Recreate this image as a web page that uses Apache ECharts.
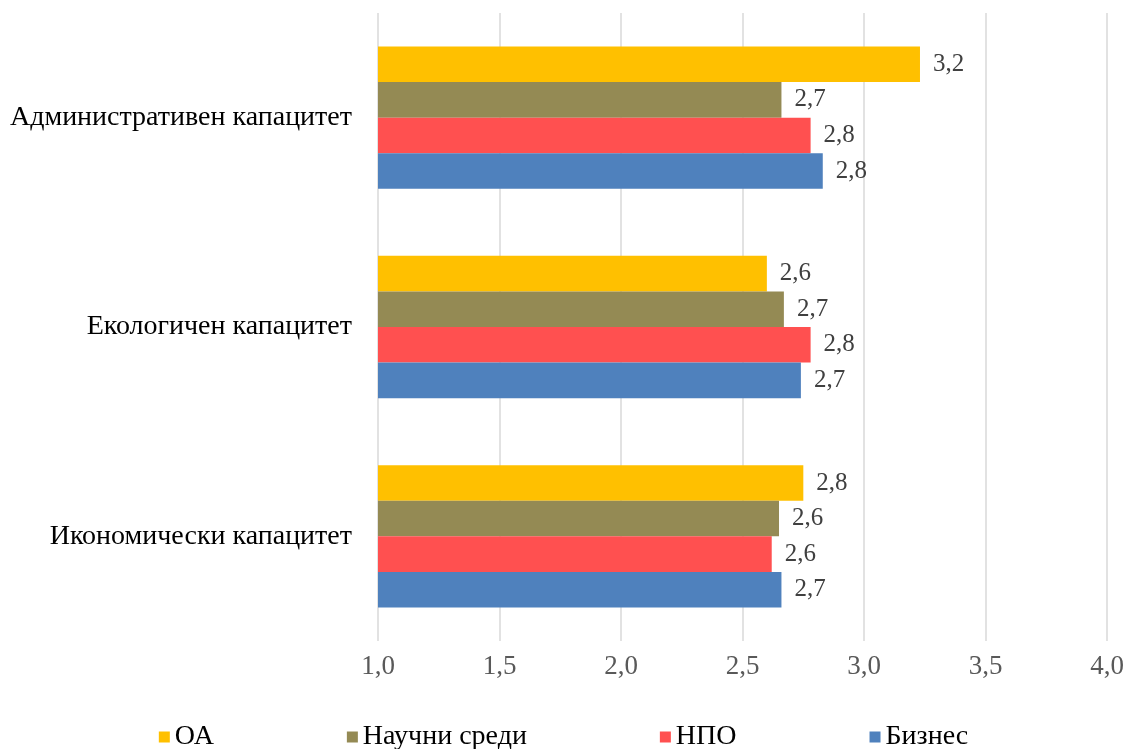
<!DOCTYPE html>
<html>
<head>
<meta charset="utf-8">
<script src="https://cdn.jsdelivr.net/npm/echarts@6/dist/echarts.min.js"></script>
<style>
  html, body { margin: 0; padding: 0; background: #fff; }
  #chart { width: 1127px; height: 749px; }
</style>
</head>
<body>
<div id="chart"></div>
<script>
// categories, top to bottom
const categories = ["Административен капацитет", "Екологичен капацитет", "Икономически капацитет"];
const seriesNames = ["ОА", "Научни среди", "НПО", "Бизнес"];
const valuesOA = [3.23, 2.60, 2.75];
const valuesScience = [2.66, 2.67, 2.65];
const valuesNGO = [2.78, 2.78, 2.62];
const valuesBusiness = [2.83, 2.74, 2.66];
const tickMin = 1.0;
const tickMax = 4.0;
const tickStep = 0.5;

const colors = ["#FFC000", "#948A54", "#FF5050", "#4F81BD"];
const serif = "'Liberation Serif', 'DejaVu Serif', serif";

const chart = echarts.init(document.getElementById("chart"));

const makeSeries = (name, data, color) => ({
  name: name,
  type: "bar",
  data: data,
  barCategoryGap: "32%",
  barGap: "0%",
  itemStyle: { color: color },
  label: {
    show: true,
    position: "right",
    distance: 13,
    fontFamily: serif,
    fontSize: 25,
    color: "#404040",
    formatter: (p) => p.value.toFixed(1).replace(".", ","),
  },
  emphasis: { disabled: true },
});

chart.setOption({
  animation: false,
  grid: {
    left: 378,
    right: 19,
    top: 13,
    bottom: 108,
    containLabel: false,
  },
  legend: {
    bottom: -7,
    left: "center",
    itemGap: 133,
    itemWidth: 11,
    itemHeight: 11,
    icon: "rect",
    data: seriesNames,
    textStyle: {
      fontFamily: serif,
      fontSize: 28,
      color: "#000000",
    },
  },
  xAxis: {
    type: "value",
    min: tickMin,
    max: tickMax,
    interval: tickStep,
    axisLine: { show: false },
    axisTick: { show: false },
    axisLabel: {
      margin: 12,
      fontFamily: serif,
      fontSize: 27,
      color: "#595959",
      formatter: (v) => v.toFixed(1).replace(".", ","),
    },
    splitLine: {
      show: true,
      lineStyle: { color: "#D9D9D9", width: 1.5 },
    },
  },
  yAxis: {
    type: "category",
    inverse: true,
    data: categories,
    axisLine: { show: false },
    axisTick: { show: false },
    axisLabel: {
      margin: 26,
      fontFamily: serif,
      fontSize: 28,
      color: "#000000",
    },
  },
  series: [
    makeSeries(seriesNames[0], valuesOA, colors[0]),
    makeSeries(seriesNames[1], valuesScience, colors[1]),
    makeSeries(seriesNames[2], valuesNGO, colors[2]),
    makeSeries(seriesNames[3], valuesBusiness, colors[3]),
  ],
});
</script>
</body>
</html>
